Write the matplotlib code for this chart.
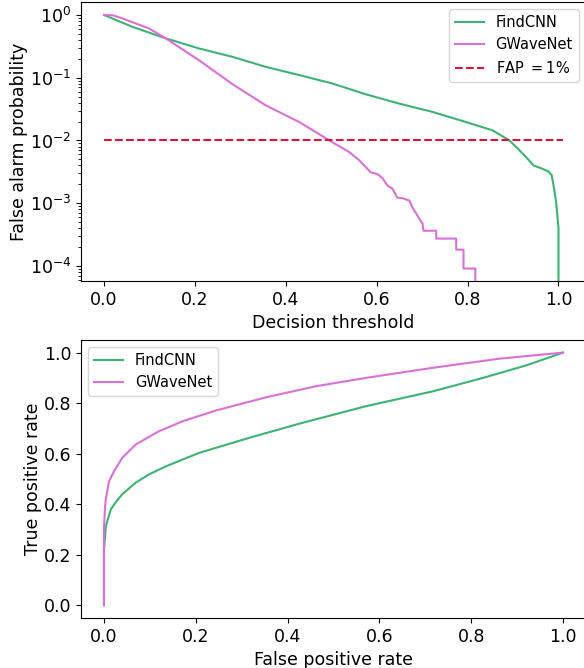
import matplotlib
matplotlib.use('Agg')
import matplotlib.pyplot as plt
import numpy as np

## false alarm probability vs decision threshold
thr_cnn = [0.0, 0.062, 0.136, 0.209, 0.283, 0.356, 0.43, 0.503, 0.576, 0.65, 0.723,
           0.797, 0.855, 0.892, 0.91, 0.929, 0.945, 0.962, 0.978, 0.985, 0.991,
           0.995, 0.998, 1.0, 1.0]
fap_cnn = [1.0, 0.65, 0.424, 0.293, 0.215, 0.149, 0.110, 0.0807, 0.0545, 0.0386,
           0.0285, 0.0196, 0.0145, 0.010, 0.0075, 0.0054, 0.004, 0.0036, 0.0032,
           0.0028, 0.0016, 0.001, 5.9e-4, 4e-4, 1e-7]

thr_gwn = [0.0, 0.02, 0.040, 0.099, 0.136, 0.209, 0.283, 0.356, 0.43, 0.496, 0.54,
           0.562, 0.587, 0.602, 0.613, 0.624, 0.635, 0.645, 0.657, 0.672, 0.679,
           0.690, 0.701, 0.703, 0.731, 0.731, 0.775, 0.775, 0.791, 0.791, 0.817,
           0.817]
fap_gwn = [1.0, 0.985, 0.885, 0.61, 0.424, 0.19, 0.0787, 0.0363, 0.0196, 0.010,
           0.0065, 0.0048, 0.0031, 0.0029, 0.0025, 0.0019, 0.0017, 0.00123, 0.0012,
           0.0011, 8.5e-4, 6.3e-4, 4.7e-4, 3.64e-4, 3.64e-4, 2.73e-4, 2.73e-4,
           1.82e-4, 1.82e-4, 9.1e-5, 9.1e-5, 1e-7]

fap_level = 0.01
fap_range = [0.0, 1.01]

## ROC curves
fpr_cnn = [0.0, 0.0, 0.002, 0.004, 0.015, 0.025, 0.04, 0.069, 0.098, 0.135, 0.207,
           0.317, 0.426, 0.571, 0.717, 0.826, 0.921, 1.0]
tpr_cnn = [0.0, 0.22, 0.26, 0.312, 0.38, 0.406, 0.44, 0.485, 0.518, 0.55, 0.603,
           0.663, 0.719, 0.788, 0.847, 0.90, 0.95, 1.0]

fpr_gwn = [0.0, 0.0, 0.002, 0.004, 0.011, 0.022, 0.04, 0.069, 0.12, 0.171, 0.244,
           0.353, 0.462, 0.571, 0.717, 0.862, 1.0]
tpr_gwn = [0.0, 0.30, 0.38, 0.42, 0.49, 0.531, 0.584, 0.636, 0.689, 0.728, 0.771,
           0.823, 0.867, 0.90, 0.94, 0.976, 1.0]

green = '#3cb371'
pink = 'orchid'

fig = plt.figure(figsize=(5.84, 6.68), dpi=100)

ax = fig.add_axes([0.1387, 0.5793, 0.8647, 0.4177])
ax.plot(thr_cnn, fap_cnn, c=green, lw=1.5, label='FindCNN')
ax.plot(thr_gwn, fap_gwn, c=pink, lw=1.5, label='GWaveNet')
ax.plot(fap_range, [fap_level, fap_level], c='crimson', ls='--', lw=1.5, label=r'FAP $=1\%$')
ax.set_yscale('log')
ax.set_ylim(5.75e-5, 1.61)
ax.set_xlim(-0.0505, 1.0605)
ax.set_xlabel('Decision threshold', fontsize=12.5)
ax.set_ylabel('False alarm probability', fontsize=12.5)
ax.yaxis.set_label_coords(-0.105, 0.5)
ax.tick_params(labelsize=12.5)
ax.legend(loc='upper right', fontsize=10.5)

ax2 = fig.add_axes([0.1387, 0.0749, 0.8647, 0.4162])
ax2.plot(fpr_cnn, tpr_cnn, c=green, lw=1.5, label='FindCNN')
ax2.plot(fpr_gwn, tpr_gwn, c=pink, lw=1.5, label='GWaveNet')
ax2.set_xlabel('False positive rate', fontsize=12.5)
ax2.set_ylabel('True positive rate', fontsize=12.5)
ax2.yaxis.set_label_coords(-0.077, 0.5)
ax2.tick_params(labelsize=12.5)
ax2.legend(loc='upper left', fontsize=10.5)

plt.savefig('out.png', dpi=100)
